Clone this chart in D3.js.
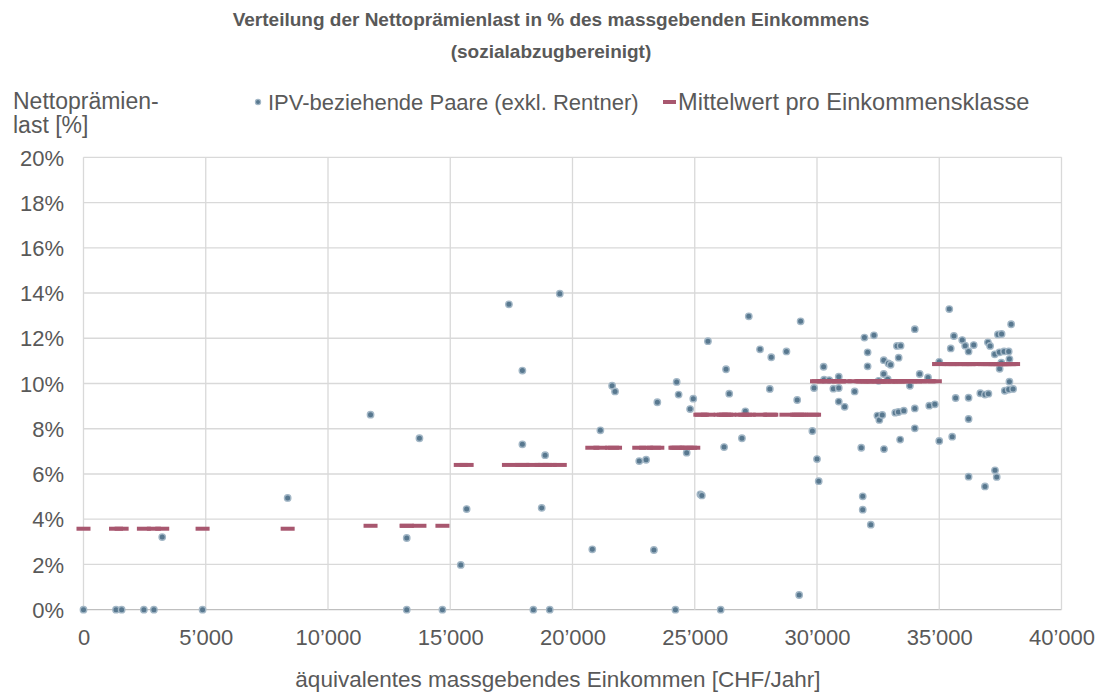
<!DOCTYPE html>
<html>
<head>
<meta charset="utf-8">
<script src="https://cdn.jsdelivr.net/npm/d3@7"></script>
<style>
  html, body { margin: 0; padding: 0; background: #ffffff; }
  svg text { font-family: "Liberation Sans", Arial, sans-serif; fill: #595959; }
</style>
</head>
<body>
<svg id="chart" width="1104" height="693"></svg>
<script>
// Äquivalentes massgebendes Einkommen [CHF/Jahr] je Haushalt
const income = [
  0, 1330, 1560, 2470, 2880, 3220, 4870, 8350,
  11740, 13220, 13220, 13740, 14680,
  15430, 15670, 17400, 17950, 17950, 18400, 18740, 18880, 19070, 19480,
  20810, 21140, 21620, 21740, 22730, 23010, 23330, 23470, 24210, 24260, 24340, 24670, 24810, 24940,
  25230, 25290, 25540, 26060, 26200, 26280, 26410, 26930, 27070, 27210, 27670, 28070, 28130, 28750,
  29190, 29270, 29330, 29810, 29880,
  30000, 30070, 30270, 30290, 30500, 30670, 30890, 30890, 30890, 31130, 31540, 31810, 31870, 31870,
  31940, 32070, 32070, 32200, 32330, 32470, 32520, 32550, 32670, 32730, 32730, 32740, 32890, 32920,
  33010, 33200, 33270, 33330, 33340, 33400, 33420, 33550, 33800, 34000, 34000, 34000, 34200, 34540,
  34590, 34820,
  35000, 35000, 35410, 35470, 35530, 35600, 35670, 35940, 36060, 36200, 36200, 36200, 36200, 36410,
  36680, 36870, 36870, 36990, 37010, 37080, 37270, 37280, 37350, 37400, 37460, 37470, 37540, 37550,
  37650, 37680, 37840, 37840, 37870, 37870, 37940, 38020
];

// Nettoprämienlast in % des massgebenden Einkommens, gleiche Reihenfolge
const burden = [
  0, 0, 0, 0, 0, 3.21, 0, 4.94,
  8.62, 3.17, 0, 7.58, 0,
  1.98, 4.45, 13.50, 10.57, 7.31, 0, 4.50, 6.83, 0, 13.97,
  2.67, 7.93, 9.90, 9.65, 6.57, 6.63, 2.64, 9.17, 0, 10.07, 9.51, 6.94, 8.87, 9.33,
  5.10, 5.05, 11.87, 0, 7.19, 10.63, 9.55, 7.58, 8.77, 12.97, 11.51, 9.76, 11.16, 11.42,
  9.27, 0.65, 12.75, 7.90, 9.80,
  6.66, 5.68, 10.74, 10.17, 10.15, 9.77, 10.30, 9.80, 9.20, 8.97, 9.65, 7.16, 5.01, 4.42,
  12.03, 11.38, 10.76, 3.76, 12.13, 8.58, 10.12, 8.39, 8.61, 11.03, 10.42, 7.10, 10.19, 10.89,
  10.83, 8.71, 11.66, 8.74, 11.14, 7.52, 11.67, 8.80, 9.90, 12.40, 8.90, 8.02, 10.42, 10.27,
  9.02, 9.08,
  10.96, 7.46, 13.29, 11.55, 7.65, 12.10, 9.36, 11.92, 11.67, 11.42, 9.37, 8.43, 5.88, 11.70,
  9.57, 9.51, 5.45, 11.82, 9.55, 11.66, 11.29, 6.16, 5.87, 12.17, 11.38, 10.65, 10.92, 12.19,
  11.42, 9.68, 11.42, 9.73, 11.08, 10.08, 12.62, 9.76
];

// Einkommensklassen (Untergrenzen) und Mittelwert der Prämienlast pro Klasse
const classBounds = [0, 10000, 15000, 20000, 25000, 30000, 35000, 40000];
const classMeans = [3.58, 3.71, 6.40, 7.16, 8.62, 10.10, 10.86];

const xTicks = [0, 5000, 10000, 15000, 20000, 25000, 30000, 35000, 40000];
const yTicks = [0, 2, 4, 6, 8, 10, 12, 14, 16, 18, 20];

const titleLines = ["Verteilung der Nettoprämienlast in % des massgebenden Einkommens", "(sozialabzugbereinigt)"];
const yTitleLines = ["Nettoprämien-", "last [%]"];
const xTitle = "äquivalentes massgebendes Einkommen [CHF/Jahr]";
const legendLabels = ["IPV-beziehende Paare (exkl. Rentner)", "Mittelwert pro Einkommensklasse"];

const svg = d3.select("#chart");
const plot = { left: 83.5, right: 1061.5, top: 157.3, bottom: 609.7 };

const x = d3.scaleLinear().domain([0, 40000]).range([plot.left, plot.right]);
const y = d3.scaleLinear().domain([0, 20]).range([plot.bottom, plot.top]);

const chf = d3.formatLocale({ decimal: ".", thousands: "’", grouping: [3], currency: ["", ""] }).format(",");

const pointColor = "#58788f";
const pointHalo = "#a3b7c6";
const meanColor = "#a8576f";
const gridColor = "#d9d9d9";
const font = '"Liberation Sans", Arial, sans-serif';

// Gitterlinien
const grid = svg.append("g");
grid.selectAll("line.h").data(yTicks).join("line")
  .attr("x1", plot.left).attr("x2", plot.right)
  .attr("y1", d => y(d)).attr("y2", d => y(d))
  .attr("stroke", d => d === 0 ? "#bfbfbf" : gridColor)
  .attr("stroke-width", 1.3);
grid.selectAll("line.v").data(xTicks).join("line")
  .attr("x1", d => x(d)).attr("x2", d => x(d))
  .attr("y1", plot.top).attr("y2", plot.bottom)
  .attr("stroke", gridColor)
  .attr("stroke-width", 1.3);

// Achsen
const xAxis = d3.axisBottom(x).tickValues(xTicks).tickFormat(chf).tickSize(0).tickPadding(0);
const gx = svg.append("g").attr("transform", `translate(0,${plot.bottom})`).call(xAxis);
gx.select(".domain").remove();
gx.selectAll("text")
  .attr("y", 35).attr("dy", null)
  .style("font-size", "22px").style("fill", "#595959")
  .style("font-family", font);

const yAxis = d3.axisLeft(y).tickValues(yTicks).tickFormat(d => d + "%").tickSize(0).tickPadding(0);
const gy = svg.append("g").attr("transform", `translate(64,0)`).call(yAxis);
gy.select(".domain").remove();
gy.selectAll("text")
  .attr("x", 0).attr("dy", "0.35em")
  .style("font-size", "22px").style("fill", "#595959")
  .style("font-family", font);

// Datenpunkte
const points = income.map((v, i) => ({ income: v, burden: burden[i] }));
svg.append("g").selectAll("circle").data(points).join("circle")
  .attr("cx", d => x(d.income))
  .attr("cy", d => y(d.burden))
  .attr("r", 3.2)
  .attr("fill", pointColor)
  .attr("stroke", pointHalo)
  .attr("stroke-width", 1.4);

// Mittelwert der Einkommensklasse, je Haushalt als Strichmarker
const classOf = v => Math.max(0, d3.bisectRight(classBounds, v) - 1);
svg.append("g").selectAll("rect").data(points).join("rect")
  .attr("x", d => x(d.income) - 7)
  .attr("y", d => y(classMeans[classOf(d.income)]) - 2)
  .attr("width", 14)
  .attr("height", 4)
  .attr("fill", meanColor);

// Titel
svg.append("g").selectAll("text").data(titleLines).join("text")
  .attr("x", 551)
  .attr("y", (d, i) => 26 + i * 32)
  .attr("text-anchor", "middle")
  .style("font-size", "19px")
  .style("font-weight", "bold")
  .text(d => d);

// y-Achsentitel
svg.append("g").selectAll("text").data(yTitleLines).join("text")
  .attr("x", 13)
  .attr("y", (d, i) => 109 + i * 24)
  .style("font-size", "23px")
  .text(d => d);

// x-Achsentitel
svg.append("text")
  .attr("x", 558).attr("y", 687)
  .attr("text-anchor", "middle")
  .style("font-size", "22.5px")
  .text(xTitle);

// Legende
const legend = svg.append("g");
legend.append("circle")
  .attr("cx", 258).attr("cy", 102).attr("r", 2.6)
  .attr("fill", pointColor).attr("stroke", pointHalo).attr("stroke-width", 1.2);
legend.append("text").attr("x", 268).attr("y", 110)
  .style("font-size", "22px").text(legendLabels[0]);
legend.append("rect")
  .attr("x", 663).attr("y", 100).attr("width", 13).attr("height", 4)
  .attr("fill", meanColor);
legend.append("text").attr("x", 678).attr("y", 110)
  .style("font-size", "23.6px").text(legendLabels[1]);
</script>
</body>
</html>
